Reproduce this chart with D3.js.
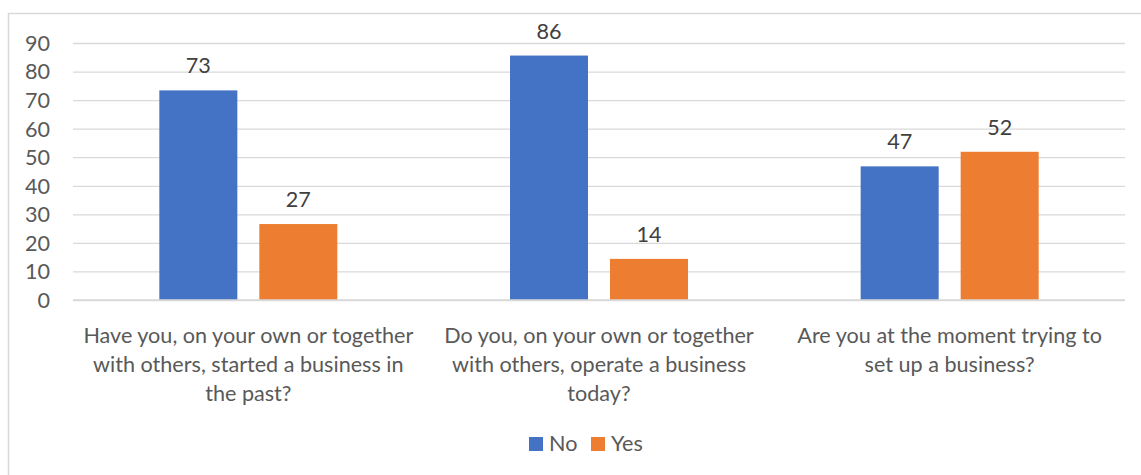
<!DOCTYPE html>
<html>
<head>
<meta charset="utf-8">
<script src="https://cdn.jsdelivr.net/npm/d3@7"></script>
<style>
  body { margin: 0; background: #fff; }
  text { font-family: Lato, "Open Sans", sans-serif; }
</style>
</head>
<body>
<script>
// data
const categories = [
  ["Have you, on your own or together", "with others, started a business in", "the past?"],
  ["Do you, on your own or together", "with others, operate a business", "today?"],
  ["Are you at the moment trying to", "set up a business?"]
];
const seriesNames = ["No", "Yes"];
const noValues = [73.4, 85.6, 46.8];
const yesValues = [26.6, 14.4, 51.9];
const yTicks = [0, 10, 20, 30, 40, 50, 60, 70, 80, 90];
const colors = ["#4472C4", "#ED7D31"];

const W = 1141, H = 475;
const plotLeft = 73, plotRight = 1125, plotTop = 43, plotBottom = 300;
const fs = 21.6;

const svg = d3.select("body").append("svg")
  .attr("width", W)
  .attr("height", H);

// chart border (runs off right/bottom like in the screenshot)
svg.append("rect")
  .attr("x", 8.5).attr("y", 13.5)
  .attr("width", 1150).attr("height", 480)
  .attr("fill", "none")
  .attr("stroke", "#d9d9d9")
  .attr("stroke-width", 1.5);

const x0 = d3.scaleBand()
  .domain(d3.range(categories.length))
  .range([plotLeft, plotRight]);

const bw = x0.bandwidth();
const x1 = d3.scaleBand()
  .domain(seriesNames)
  .range([(bw - 178) / 2, (bw + 178) / 2])
  .paddingInner(0.22);

const y = d3.scaleLinear().domain([0, 90]).range([plotBottom, plotTop]);

// gridlines + tick labels
const yAxis = svg.append("g")
  .attr("transform", `translate(${plotLeft},0)`)
  .call(d3.axisLeft(y).tickValues(yTicks).tickSize(-(plotRight - plotLeft)).tickPadding(23));
yAxis.select(".domain").remove();
yAxis.selectAll(".tick line")
  .attr("stroke", "#d9d9d9")
  .attr("stroke-width", 1.3);
yAxis.selectAll(".tick text")
  .attr("fill", "#595959")
  .attr("font-size", fs)
  .attr("font-family", "Lato, sans-serif")
  .attr("dy", "0.34em");

// bars
const rows = categories.map((c, i) => [
  { key: "No", value: noValues[i], idx: i },
  { key: "Yes", value: yesValues[i], idx: i }
]);

const groups = svg.selectAll("g.cat")
  .data(rows)
  .enter().append("g")
  .attr("class", "cat")
  .attr("transform", (d, i) => `translate(${x0(i)},0)`);

groups.selectAll("rect")
  .data(d => d)
  .enter().append("rect")
  .attr("x", d => x1(d.key))
  .attr("y", d => y(d.value))
  .attr("width", x1.bandwidth())
  .attr("height", d => y(0) - y(d.value))
  .attr("fill", (d, i) => colors[i]);

groups.selectAll("text.val")
  .data(d => d)
  .enter().append("text")
  .attr("class", "val")
  .attr("x", d => x1(d.key) + x1.bandwidth() / 2)
  .attr("y", d => y(d.value) - 17)
  .attr("text-anchor", "middle")
  .attr("font-size", fs)
  .attr("fill", "#404040")
  .text(d => d3.format(".0f")(d.value));

// baseline redraw on top of bars
svg.append("line")
  .attr("x1", plotLeft).attr("x2", plotRight)
  .attr("y1", y(0)).attr("y2", y(0))
  .attr("stroke", "#d9d9d9")
  .attr("stroke-width", 1.3);

// category labels
categories.forEach((lines, i) => {
  const t = svg.append("text")
    .attr("x", x0(i) + bw / 2)
    .attr("y", 343)
    .attr("text-anchor", "middle")
    .attr("font-size", fs)
    .attr("fill", "#595959");
  lines.forEach((ln, j) => {
    t.append("tspan")
      .attr("x", x0(i) + bw / 2)
      .attr("y", 343 + j * 29)
      .text(ln);
  });
});

// legend
const legend = svg.append("g");
const legendX = [529, 591];
seriesNames.forEach((s, i) => {
  legend.append("rect")
    .attr("x", legendX[i]).attr("y", 437)
    .attr("width", 14).attr("height", 14)
    .attr("fill", colors[i]);
  legend.append("text")
    .attr("x", legendX[i] + 20)
    .attr("y", 451)
    .attr("font-size", fs)
    .attr("fill", "#595959")
    .text(s);
});
</script>
</body>
</html>
